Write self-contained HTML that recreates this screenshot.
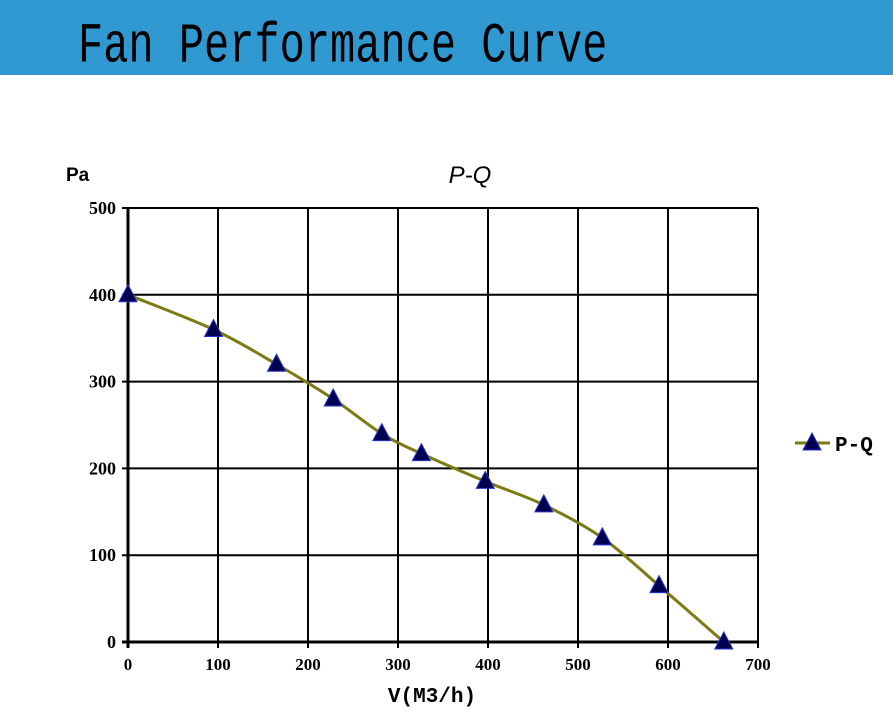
<!DOCTYPE html>
<html><head><meta charset="utf-8"><style>
body{margin:0;width:893px;height:714px;background:#fff;overflow:hidden;position:relative;font-family:"Liberation Sans",sans-serif}
#band{position:absolute;left:0;top:0;width:893px;height:75px;background:#3199d2}
#title{position:absolute;left:78px;top:14px;font-family:"Liberation Mono",monospace;font-size:42px;color:#000;transform:scaleY(1.35);transform-origin:0 0;white-space:nowrap}
svg{position:absolute;left:0;top:0}
</style></head><body>
<div id="band"></div>
<div id="title">Fan Performance Curve</div>
<svg id="chart" width="893" height="714"></svg>
<script>
const xTicks=[0,100,200,300,400,500,600,700];
const yTicks=[0,100,200,300,400,500];
const flowQ=[0,95,165,228,282,326,397,462,527,590,662];
const pressureP=[400,360,320,280,240,217,185,158,120,65,0];
const X0=128,X1=758,Y0=642,Y1=208;
const sx=v=>X0+(v-0)/700*(X1-X0);
const sy=v=>Y0-(v-0)/500*(Y0-Y1);
const svg=document.getElementById('chart');
const NS='http://www.w3.org/2000/svg';
function mk(t,a){const e=document.createElementNS(NS,t);for(const k in a)e.setAttribute(k,a[k]);svg.appendChild(e);return e;}
xTicks.forEach(v=>{
 const l=mk('line',{x1:sx(v),x2:sx(v),y1:Y1,y2:Y0+6,stroke:'#000','stroke-width':2});
 
 
 const t=mk('text',{x:sx(v),y:Y0+28,'text-anchor':'middle','font-family':'Liberation Serif,serif','font-weight':'bold','font-size':17});
 t.textContent=v;
 
 
});
yTicks.forEach(v=>{
 const l=mk('line',{x1:X0-6,x2:X1,y1:sy(v),y2:sy(v),stroke:'#000','stroke-width':v==0?3:2});
 
 
 const t=mk('text',{x:X0-12,y:sy(v)+6,'text-anchor':'end','font-family':'Liberation Serif,serif','font-weight':'bold','font-size':18});
 t.textContent=v;
 
 
});
const ax=mk('line',{x1:X0,x2:X0,y1:Y1,y2:Y0+6,stroke:'#000','stroke-width':3});


const pts=flowQ.map((q,i)=>[sx(q),sy(pressureP[i])]);
let d='M'+pts[0][0]+','+pts[0][1];
for(let i=0;i<pts.length-1;i++){
 const p0=pts[Math.max(0,i-1)],p1=pts[i],p2=pts[i+1],p3=pts[Math.min(pts.length-1,i+2)];
 const c1=[p1[0]+(p2[0]-p0[0])/6,p1[1]+(p2[1]-p0[1])/6];
 const c2=[p2[0]-(p3[0]-p1[0])/6,p2[1]-(p3[1]-p1[1])/6];
 d+=` C${c1[0]},${c1[1]} ${c2[0]},${c2[1]} ${p2[0]},${p2[1]}`;
}
const line=mk('path',{d:d,fill:'none',stroke:'#7d7a12','stroke-width':3});


function tri(x,y){return `${x},${y-10} ${x-9},${y+7} ${x+9},${y+7}`;}
pts.forEach(p=>{
 const m=mk('polygon',{points:tri(p[0],p[1]),fill:'#000050',stroke:'#2233cc','stroke-width':1});
 
 
});
const ll=mk('line',{x1:795,x2:830,y1:443,y2:443,stroke:'#7d7a12','stroke-width':3});


const lm=mk('polygon',{points:tri(812,443),fill:'#000050',stroke:'#2233cc','stroke-width':1});


const lt=mk('text',{x:835,y:451,'font-family':'Liberation Mono,monospace','font-weight':'bold','font-size':21});
lt.textContent='P-Q';


const ct=mk('text',{x:470,y:183,'text-anchor':'middle','font-style':'italic','font-size':24});
ct.textContent='P-Q';


const yt=mk('text',{x:66,y:181,'font-size':19,'font-weight':'bold'});
yt.textContent='Pa';


const xt=mk('text',{x:432,y:702,'text-anchor':'middle','font-family':'Liberation Mono,monospace','font-weight':'bold','font-size':21});
xt.textContent='V(M3/h)';


</script>
</body></html>
